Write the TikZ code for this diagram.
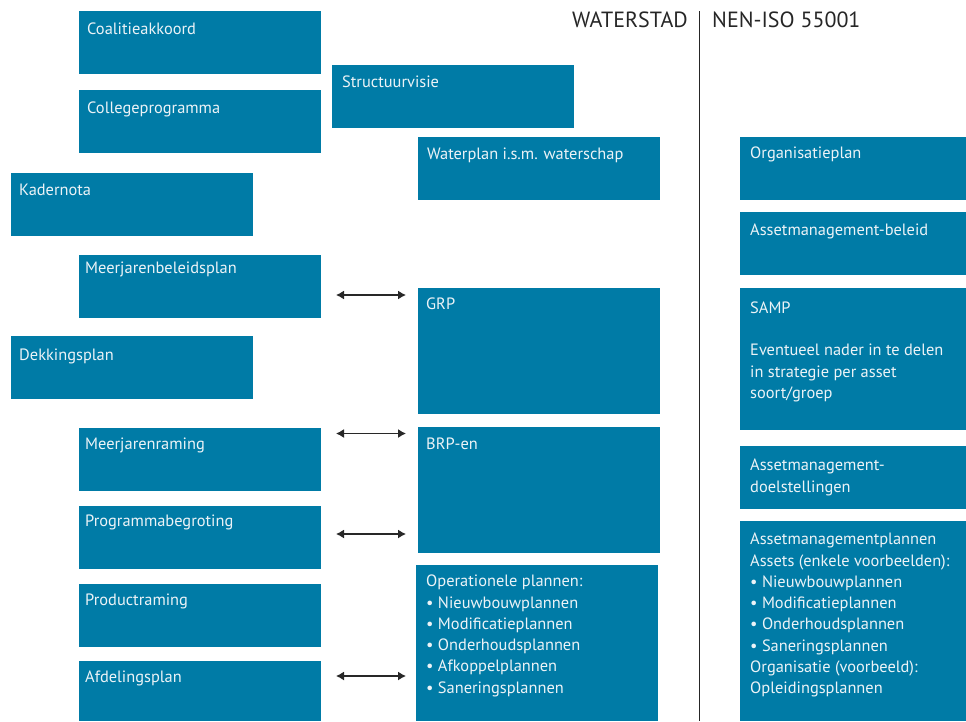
\documentclass[tikz,border=0pt]{standalone}
\usepackage{fontspec}
\setmainfont{PT Sans}
\usetikzlibrary{arrows.meta,calc}
\definecolor{boxblue}{RGB}{0,123,166}
\definecolor{boxtext}{RGB}{236,243,247}
\definecolor{hdr}{RGB}{38,38,38}
\definecolor{arr}{RGB}{40,40,40}
% name, x, y, w, h, dx, baseline dy, text  (strut height = 0.7*21.3 = 14.91)
\newcommand{\bx}[8]{%
  \node[box,minimum width=#4,minimum height=#5] (#1) at (#2,#3) {};
  \node[lbl] (#1-t) at ($(#1.north west)+(#6,#7-14.91)$) {\strut #8};}
\begin{document}
\begin{tikzpicture}[x=1pt,y=-1pt,
  box/.style={fill=boxblue,draw=none,anchor=north west,inner sep=0pt,outer sep=0pt},
  lbl/.style={anchor=north west,inner sep=0pt,align=left,text=boxtext,
    font=\fontsize{16.4pt}{21.3pt}\selectfont},
  hdrtext/.style={text=hdr,inner sep=0pt,font=\fontsize{22pt}{24pt}\selectfont},
  dbl/.style={{Latex[length=8pt,width=9pt]}-{Latex[length=8pt,width=9pt]},line width=1.3pt,draw=arr}]
\useasboundingbox (0,0) rectangle (966,721);
% left column
\bx{coal}{79}{11}{242pt}{63pt}{8}{23}{Coalitieakkoord}
\bx{struct}{332}{65}{242pt}{63pt}{10}{22}{Structuurvisie}
\bx{coll}{79}{90}{242pt}{63pt}{8}{23}{Collegeprogramma}
\bx{water}{418}{137}{242pt}{63pt}{9}{22}{Waterplan i.s.m. waterschap}
\bx{kader}{11}{173}{242pt}{63pt}{8}{22}{Kadernota}
\bx{mjb}{79}{255}{242pt}{63pt}{6}{18.5}{Meerjarenbeleidsplan}
\bx{grp}{418}{288}{242pt}{126pt}{8}{21}{GRP}
\bx{dek}{11}{336}{242pt}{63pt}{8}{24}{Dekkingsplan}
\bx{mjr}{79}{428}{242pt}{63pt}{6}{21}{Meerjarenraming}
\bx{brp}{418}{427}{242pt}{126pt}{8}{22}{BRP-en}
\bx{prog}{79}{506}{242pt}{63pt}{6}{20}{Programmabegroting}
\bx{prod}{79}{584}{242pt}{63pt}{6}{21}{Productraming}
\bx{afd}{79}{661}{242pt}{60pt}{6}{21}{Afdelingsplan}
\bx{oper}{416}{565}{242pt}{156pt}{10}{21.5}{Operationele plannen:\\%
  • Nieuwbouwplannen\\• Modificatieplannen\\• Onderhoudsplannen\\%
  • Afkoppelplannen\\• Saneringsplannen}
% right column
\bx{orgp}{740}{137}{226pt}{63pt}{10}{21}{Organisatieplan}
\bx{amb}{740}{212}{226pt}{63pt}{10}{23}{Assetmanagement-beleid}
\bx{samp}{740}{288}{226pt}{142pt}{10}{25}{SAMP\\[21.3pt]Eventueel nader in te delen\\%
  in strategie per asset\\soort/groep}
\bx{amd}{740}{446}{226pt}{63pt}{10}{24.5}{Assetmanagement-\\doelstellingen}
\bx{amp}{740}{521}{226pt}{200pt}{10}{23.5}{Assetmanagementplannen\\%
  Assets (enkele voorbeelden):\\• Nieuwbouwplannen\\• Modificatieplannen\\%
  • Onderhoudsplannen\\• Saneringsplannen\\Organisatie (voorbeeld):\\%
  Opleidingsplannen}
% header
\coordinate (divtop) at (699,11);
\coordinate (divbot) at (699,721);
\draw[line width=1pt,draw=hdr] (divtop) -- (divbot);
\node[hdrtext,anchor=base east] (ws) at (688,27.5) {WATERSTAD};
\node[hdrtext,anchor=base west] (nen) at (712,27.5) {NEN-ISO 55001};
% arrows
\coordinate (a1l) at (336,295); \coordinate (a1r) at (406,295);
\coordinate (a2l) at (336,433.5); \coordinate (a2r) at (406,433.5);
\coordinate (a3l) at (336,534); \coordinate (a3r) at (406,534);
\coordinate (a4l) at (336,676); \coordinate (a4r) at (406,676);
\draw[dbl] (a1l) -- (a1r);
\draw[dbl] (a2l) -- (a2r);
\draw[dbl] (a3l) -- (a3r);
\draw[dbl] (a4l) -- (a4r);
\end{tikzpicture}
\end{document}
